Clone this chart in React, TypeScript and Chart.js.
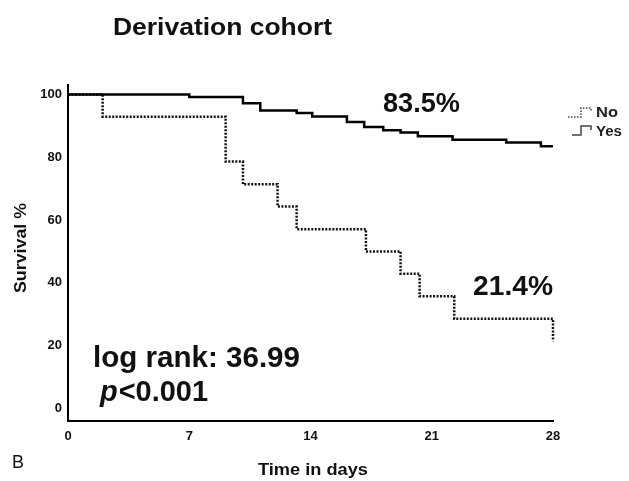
import React, { useEffect, useRef } from "react";
import { Chart, registerables } from "chart.js";

Chart.register(...registerables);

// Kaplan-Meier steps (day, survival %)
const yesDays = [0, 7.0, 10.1, 11.1, 13.2, 14.1, 16.1, 17.1, 18.2, 19.2, 20.2, 22.2, 25.3, 27.3, 28];
const yesSurv = [100, 99.2, 97.2, 94.9, 94.1, 93.0, 91.2, 89.6, 88.6, 87.9, 86.7, 85.6, 84.7, 83.5, 83.5];

const noDays = [0, 2.0, 9.1, 10.1, 12.1, 13.2, 17.2, 19.2, 20.3, 22.3, 28];
const noSurv = [100, 92.9, 78.6, 71.4, 64.3, 57.1, 50.0, 42.9, 35.7, 28.6, 21.4];

const xTicks = [0, 7, 14, 21, 28];
const yTicks = [0, 20, 40, 60, 80, 100];

const titleText = "Derivation cohort";
const xTitle = "Time in days";
const yTitle = "Survival %";
const yesLabel = "83.5%";
const noLabel = "21.4%";
const logRankText = "log rank: 36.99";
const pText = "<0.001";
const panelLabel = "B";
const legendNo = "No";
const legendYes = "Yes";

const FONT = "'Liberation Sans', Arial, sans-serif";

function fillFit(ctx: CanvasRenderingContext2D, text: string, left: number, cy: number, width: number) {
  const w = ctx.measureText(text).width;
  const s = width / w;
  ctx.save();
  ctx.translate(left, cy);
  ctx.scale(s, 1);
  ctx.textAlign = "left";
  ctx.fillText(text, 0, 0);
  ctx.restore();
}

const textPlugin = {
  id: "texts",
  afterDraw(chart: any) {
    const ctx = chart.ctx as CanvasRenderingContext2D;
    ctx.save();
    ctx.fillStyle = "#111";
    ctx.textBaseline = "middle";

    // Title
    ctx.font = `bold 24px ${FONT}`;
    fillFit(ctx, titleText, 113, 28, 219);

    // Axis titles
    ctx.font = `bold 17px ${FONT}`;
    fillFit(ctx, xTitle, 258, 470, 110);
    ctx.save();
    ctx.translate(21, 293);
    ctx.rotate(-Math.PI / 2);
    ctx.font = `bold 17px ${FONT}`;
    fillFit(ctx, yTitle, 0, 0, 90);
    ctx.restore();

    // Panel label
    ctx.font = `18px ${FONT}`;
    ctx.textAlign = "left";
    ctx.fillText(panelLabel, 12, 463);

    // Percent annotations
    ctx.font = `bold 27px ${FONT}`;
    fillFit(ctx, yesLabel, 383, 105, 77);
    fillFit(ctx, noLabel, 473, 288, 80);

    // Log rank
    ctx.font = `bold 29px ${FONT}`;
    fillFit(ctx, logRankText, 93, 359, 207);
    ctx.font = `bold italic 29px ${FONT}`;
    const pw = ctx.measureText("p").width;
    ctx.font = `bold 29px ${FONT}`;
    const rw = ctx.measureText(pText).width;
    const s = 108 / (pw + rw + 1);
    ctx.save();
    ctx.translate(100, 393);
    ctx.scale(s, 1);
    ctx.textAlign = "left";
    ctx.font = `bold italic 29px ${FONT}`;
    ctx.fillText("p", 0, 0);
    ctx.font = `bold 29px ${FONT}`;
    ctx.fillText(pText, pw + 1, 0);
    ctx.restore();

    // Legend
    ctx.strokeStyle = "#444";
    ctx.lineWidth = 1.5;
    ctx.setLineDash([1.5, 1.5]);
    ctx.beginPath();
    ctx.moveTo(568, 117);
    ctx.lineTo(581, 117);
    ctx.lineTo(581, 108);
    ctx.lineTo(591, 108);
    ctx.lineTo(591, 112);
    ctx.stroke();
    ctx.setLineDash([]);
    ctx.beginPath();
    ctx.moveTo(572, 135);
    ctx.lineTo(581, 135);
    ctx.lineTo(581, 126);
    ctx.lineTo(591, 126);
    ctx.lineTo(591, 130);
    ctx.stroke();

    ctx.font = `bold 14px ${FONT}`;
    ctx.fillStyle = "#222";
    fillFit(ctx, legendNo, 596, 113, 22);
    fillFit(ctx, legendYes, 596, 132, 26);

    ctx.restore();
  },
};

export default function App() {
  const ref = useRef<HTMLCanvasElement | null>(null);

  useEffect(() => {
    document.body.style.margin = "0";
    const canvas = ref.current;
    if (!canvas) return;
    const chart = new Chart(canvas, {
      type: "line",
      data: {
        datasets: [
          {
            label: "Yes",
            data: yesDays.map((d, i) => ({ x: d, y: yesSurv[i] })),
            borderColor: "#000",
            borderWidth: 2.5,
            stepped: true,
            pointRadius: 0,
            fill: false,
            clip: false as any,
          },
          {
            label: "No",
            data: noDays.map((d, i) => ({ x: d, y: noSurv[i] })),
            borderColor: "#111",
            borderWidth: 2.5,
            borderDash: [2, 1.5],
            stepped: true,
            pointRadius: 0,
            fill: false,
            clip: false as any,
          },
        ],
      },
      options: {
        animation: false,
        responsive: false,
        devicePixelRatio: 1,
        layout: { padding: { top: 85, right: 76, left: 0, bottom: 0 } },
        plugins: {
          legend: { display: false },
          tooltip: { enabled: false },
          title: { display: false },
        },
        scales: {
          x: {
            type: "linear",
            min: 0,
            max: 28,
            grid: { display: false, drawTicks: false },
            border: { display: true, color: "#000", width: 2 },
            afterBuildTicks: (scale: any) => {
              scale.ticks = xTicks.map((v) => ({ value: v }));
            },
            afterFit: (scale: any) => {
              scale.height = 60;
            },
            ticks: {
              padding: 8,
              color: "#111",
              font: { family: FONT, size: 13, weight: "bold" },
              maxRotation: 0,
            },
          },
          y: {
            type: "linear",
            min: -4,
            max: 103,
            grid: { display: false, drawTicks: false },
            border: { display: true, color: "#000", width: 2 },
            afterBuildTicks: (scale: any) => {
              scale.ticks = yTicks.map((v) => ({ value: v }));
            },
            afterFit: (scale: any) => {
              scale.width = 68;
            },
            ticks: {
              padding: 6,
              color: "#111",
              font: { family: FONT, size: 13, weight: "bold" },
            },
          },
        },
      },
      plugins: [textPlugin],
    });
    return () => chart.destroy();
  }, []);

  return (
    <div style={{ width: 629, height: 481, background: "#fff" }}>
      <canvas ref={ref} width={629} height={481} style={{ display: "block" }} />
    </div>
  );
}
